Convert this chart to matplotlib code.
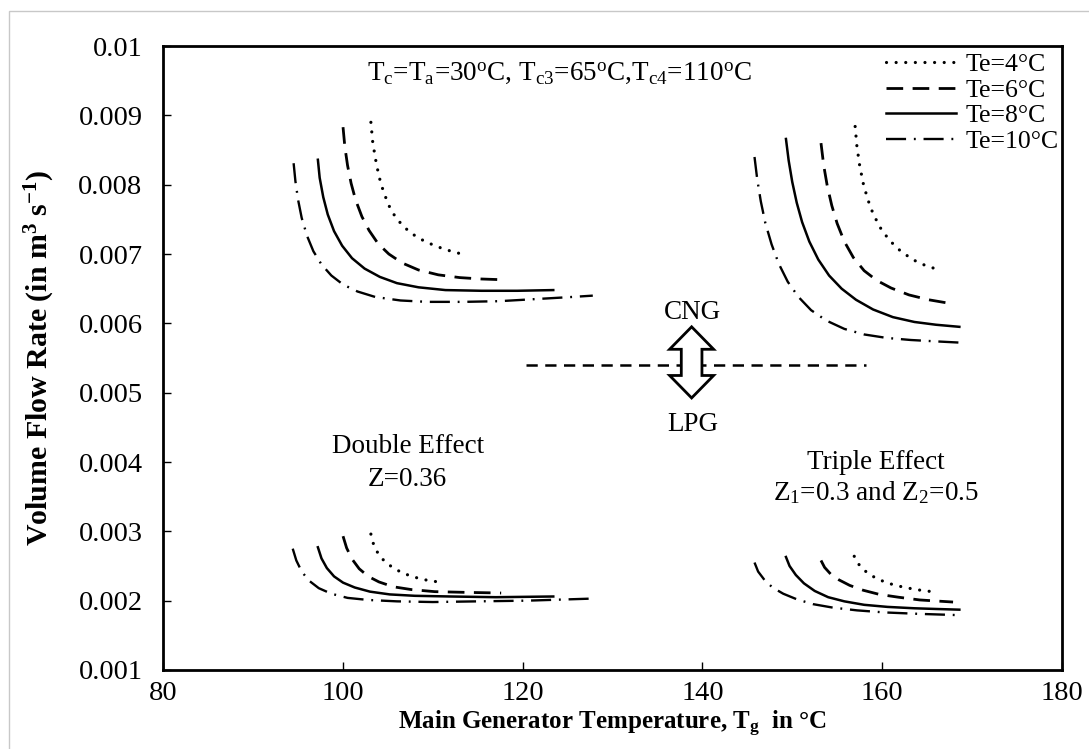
import matplotlib
matplotlib.use("Agg")
import matplotlib.pyplot as plt
from matplotlib.patches import Polygon, Rectangle
from matplotlib.ticker import FuncFormatter

plt.rcParams["font.family"] = ["Liberation Serif", "DejaVu Serif"]
plt.rcParams["mathtext.fontset"] = "custom"
plt.rcParams["mathtext.rm"] = "Liberation Serif"
plt.rcParams["mathtext.it"] = "Liberation Serif:italic"
plt.rcParams["mathtext.bf"] = "Liberation Serif:bold"

labels = ["Te=4°C", "Te=6°C", "Te=8°C", "Te=10°C"]

# double effect, CNG
de_cng_x = [
    [103.1, 103.3, 103.6, 104.0, 104.5, 105.1, 105.8, 106.7, 107.7, 109.0, 110.4, 111.8, 113.2],
    [100.0, 100.2, 100.5, 100.9, 101.4, 102.1, 102.9, 103.9, 105.1, 106.6, 108.4, 110.6, 113.0, 115.4, 117.6],
    [97.2, 97.4, 97.8, 98.3, 99.0, 99.9, 101.0, 102.4, 104.1, 106.0, 108.4, 111.4, 115.4, 119.4, 123.4],
    [94.5, 94.7, 95.0, 95.4, 96.0, 96.7, 97.6, 98.7, 100.0, 101.6, 103.6, 106.4, 109.4, 113.4, 117.4, 121.4, 125.4, 127.8],
]
de_cng_y = [
    [0.00890, 0.00862, 0.00838, 0.00812, 0.00790, 0.00770, 0.00754, 0.00740, 0.00729, 0.00719, 0.00711, 0.00705, 0.00700],
    [0.00883, 0.00855, 0.00828, 0.00802, 0.00778, 0.00754, 0.00734, 0.00715, 0.00700, 0.00687, 0.00677, 0.00670, 0.00666, 0.00664, 0.00663],
    [0.00836, 0.00810, 0.00782, 0.00757, 0.00733, 0.00712, 0.00694, 0.00679, 0.00667, 0.00658, 0.00652, 0.00648, 0.00647, 0.00647, 0.00648],
    [0.00831, 0.00805, 0.00778, 0.00752, 0.00726, 0.00704, 0.00685, 0.00669, 0.00656, 0.00646, 0.00638, 0.00633, 0.00631, 0.00631, 0.00632, 0.00635, 0.00638, 0.00640],
]

# double effect, LPG
de_lpg_x = [
    [103.1, 103.4, 103.9, 104.6, 105.5, 106.6, 107.9, 109.5, 111.2],
    [100.0, 100.4, 101.0, 101.8, 102.8, 104.0, 105.6, 107.6, 110.2, 113.5, 117.6],
    [97.2, 97.6, 98.2, 99.0, 100.0, 101.3, 103.0, 105.2, 108.0, 112.0, 117.0, 123.4],
    [94.4, 94.8, 95.4, 96.2, 97.3, 98.7, 100.5, 102.8, 106.0, 110.0, 115.0, 120.5, 127.8],
]
de_lpg_y = [
    [0.00296, 0.00281, 0.00268, 0.00257, 0.00248, 0.00240, 0.00234, 0.00229, 0.00226],
    [0.00293, 0.00276, 0.00260, 0.00246, 0.00235, 0.00227, 0.00220, 0.00216, 0.00213, 0.00212, 0.00211],
    [0.00277, 0.00261, 0.00247, 0.00235, 0.00226, 0.00219, 0.00213, 0.00209, 0.00207, 0.00206, 0.00205, 0.00206],
    [0.00275, 0.00258, 0.00242, 0.00229, 0.00218, 0.00210, 0.00204, 0.00201, 0.00199, 0.00198, 0.00199, 0.00200, 0.00203],
]

# triple effect, CNG
te_cng_x = [
    [157.0, 157.2, 157.5, 157.9, 158.4, 159.0, 159.8, 160.8, 162.0, 163.4, 164.9, 166.4],
    [153.2, 153.5, 153.9, 154.4, 155.0, 155.8, 156.8, 158.0, 159.4, 161.0, 163.0, 165.2, 167.9],
    [149.3, 149.6, 150.0, 150.5, 151.1, 151.9, 152.9, 154.1, 155.5, 157.1, 159.0, 161.2, 163.6, 166.0, 168.6],
    [145.8, 146.1, 146.5, 147.0, 147.7, 148.5, 149.5, 150.7, 152.1, 153.8, 155.8, 158.0, 160.5, 163.2, 166.0, 169.0],
]
te_cng_y = [
    [0.00884, 0.00855, 0.00828, 0.00802, 0.00779, 0.00758, 0.00738, 0.00720, 0.00705, 0.00692, 0.00683, 0.00677],
    [0.00860, 0.00828, 0.00798, 0.00770, 0.00744, 0.00718, 0.00695, 0.00676, 0.00662, 0.00651, 0.00641, 0.00634, 0.00628],
    [0.00866, 0.00835, 0.00804, 0.00774, 0.00746, 0.00718, 0.00692, 0.00669, 0.00650, 0.00634, 0.00620, 0.00609, 0.00602, 0.00598, 0.00595],
    [0.00840, 0.00808, 0.00776, 0.00745, 0.00714, 0.00686, 0.00660, 0.00638, 0.00619, 0.00604, 0.00592, 0.00584, 0.00579, 0.00576, 0.00574, 0.00572],
]

# triple effect, LPG
te_lpg_x = [
    [156.9, 157.3, 157.9, 158.7, 159.7, 161.0, 162.5, 164.3, 166.2],
    [153.2, 153.6, 154.3, 155.2, 156.4, 157.9, 159.7, 161.8, 164.2, 167.9],
    [149.3, 149.7, 150.4, 151.3, 152.5, 154.0, 155.8, 158.0, 160.6, 163.6, 166.0, 168.6],
    [145.8, 146.2, 146.9, 147.8, 149.0, 150.5, 152.3, 154.5, 157.2, 160.3, 164.0, 168.8],
]
te_lpg_y = [
    [0.00264, 0.00254, 0.00245, 0.00237, 0.00230, 0.00224, 0.00219, 0.00215, 0.00212],
    [0.00258, 0.00248, 0.00238, 0.00230, 0.00222, 0.00215, 0.00209, 0.00205, 0.00201, 0.00198],
    [0.00263, 0.00250, 0.00237, 0.00225, 0.00214, 0.00205, 0.00199, 0.00194, 0.00191, 0.00189, 0.00188, 0.00187],
    [0.00255, 0.00242, 0.00230, 0.00219, 0.00210, 0.00202, 0.00195, 0.00190, 0.00186, 0.00183, 0.00181, 0.00179],
]

divider_x = [120.4, 158.2]
divider_y = 0.0054

styles = [
    dict(linestyle=(0, (0.01, 3.0)), dash_capstyle="round", lw=2.3),
    dict(linestyle=(0, (6.0, 3.4)), lw=2.0),
    dict(linestyle="-", lw=1.8),
    dict(linestyle=(0, (8.5, 3.3, 0.8, 3.3)), lw=1.7),
]

fig = plt.figure(figsize=(10.89, 7.49), dpi=100)
ax = fig.add_axes([0.150, 0.1055, 0.825, 0.833])

for xs_all, ys_all in [(de_cng_x, de_cng_y), (de_lpg_x, de_lpg_y),
                       (te_cng_x, te_cng_y), (te_lpg_x, te_lpg_y)]:
    for i in range(4):
        ax.plot(xs_all[i], ys_all[i], color="black", **styles[i])

# legend handles
for i in range(4):
    ax.plot([], [], color="black", label=labels[i], **styles[i])

ax.plot(divider_x, [divider_y, divider_y], color="black", lw=1.8,
        linestyle=(0, (4.5, 3.0)))

# double-headed hollow arrow (axes fraction)
cx, cy = 0.588, 0.493
hh, hw, sw, hl = 0.057, 0.0245, 0.0115, 0.036
arrow = Polygon([
    (cx, cy + hh), (cx + hw, cy + hh - hl), (cx + sw, cy + hh - hl),
    (cx + sw, cy - hh + hl), (cx + hw, cy - hh + hl), (cx, cy - hh),
    (cx - hw, cy - hh + hl), (cx - sw, cy - hh + hl),
    (cx - sw, cy + hh - hl), (cx - hw, cy + hh - hl)],
    closed=True, transform=ax.transAxes, facecolor="white",
    edgecolor="black", lw=2.0, zorder=5)
ax.add_patch(arrow)

fs = 19.5
ax.text(138.9, 0.00616, "CNG", ha="center", va="center", fontsize=fs)
ax.text(138.9, 0.00454, "LPG", ha="center", va="center", fontsize=fs)
ax.text(107.2, 0.00422, "Double Effect", ha="center", va="center", fontsize=fs)
ax.text(107.2, 0.00375, "Z=0.36", ha="center", va="center", fontsize=fs)
ax.text(159.3, 0.00399, "Triple Effect", ha="center", va="center", fontsize=fs)
ax.text(159.3, 0.00356, r"Z$_\mathrm{1}$=0.3 and Z$_\mathrm{2}$=0.5",
        ha="center", va="center", fontsize=fs)
ax.text(102.7, 0.0096,
        r"T$_\mathrm{c}$=T$_\mathrm{a}$=30$^\mathrm{o}$C, "
        r"T$_\mathrm{c3}$=65$^\mathrm{o}$C,T$_\mathrm{c4}$=110$^\mathrm{o}$C",
        ha="left", va="center", fontsize=fs)

ax.set_xlim(80, 180)
ax.set_ylim(0.001, 0.01)
ax.set_xticks([80, 100, 120, 140, 160, 180])
ax.set_yticks([0.001 * k for k in range(1, 11)])
ax.yaxis.set_major_formatter(FuncFormatter(lambda v, p: f"{v:g}"))
ax.tick_params(direction="in", length=6, width=1.0, labelsize=20.5)
ax.tick_params(axis="x", pad=8)
ax.tick_params(axis="y", pad=15)
for s in ax.spines.values():
    s.set_linewidth(2.0)

ax.set_xlabel(r"Main Generator Temperature, T$_\mathbf{g}$  in °C",
              fontsize=18, fontweight="bold")
ax.set_ylabel(r"Volume Flow Rate (in m$^\mathbf{3}$ s$^\mathbf{-1}$)",
              fontsize=21.5, fontweight="bold")
ax.xaxis.set_label_coords(0.5, -0.062)
ax.yaxis.set_label_coords(-0.118, 0.5)

ax.legend(loc="upper right", frameon=False, fontsize=18.5, handlelength=2.7,
          labelspacing=0.1, handletextpad=0.4, borderaxespad=0.0,
          bbox_to_anchor=(1.0085, 1.005))

fig.patches.append(Rectangle((0.0083, -0.05), 1.2, 0.985 + 0.05,
                             transform=fig.transFigure, fill=False,
                             edgecolor="#c8c8c8", lw=1.0))

fig.savefig("out.png", dpi=100)
